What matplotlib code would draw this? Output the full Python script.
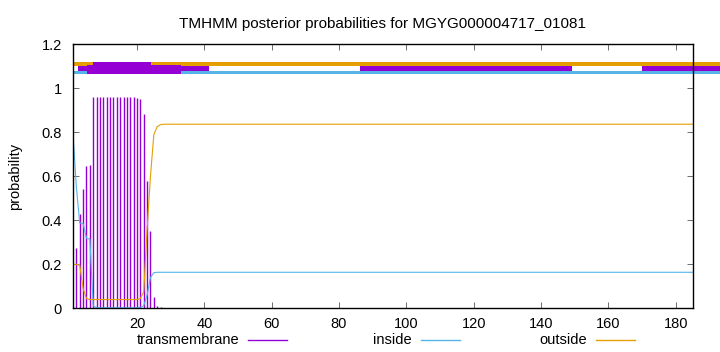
import numpy as np
import matplotlib
matplotlib.use("Agg")
import matplotlib.pyplot as plt
from matplotlib.lines import Line2D

plt.rcParams['font.family'] = ['Liberation Sans', 'DejaVu Sans']

# posterior probabilities, residues 1..28 (flat after that up to seq_len)
seq_len = 185
residues = [1, 2, 3, 4, 5, 6, 7, 8, 9, 10, 11, 12, 13, 14,
            15, 16, 17, 18, 19, 20, 21, 22, 23, 24, 25, 26, 27, 28]
tm = [0.005, 0.276, 0.429, 0.544, 0.648, 0.651, 0.959, 0.959, 0.959, 0.959,
      0.959, 0.959, 0.959, 0.959, 0.959, 0.959, 0.959, 0.959, 0.959, 0.955,
      0.950, 0.885, 0.580, 0.351, 0.050, 0.010, 0.004, 0.0]
inside = [0.795, 0.55, 0.388, 0.385, 0.318, 0.315, 0.012, 0.003, 0.003, 0.003,
          0.003, 0.003, 0.003, 0.003, 0.003, 0.003, 0.003, 0.003, 0.003, 0.003,
          0.004, 0.012, 0.06, 0.14, 0.162, 0.164, 0.164, 0.164]
outside = [0.2, 0.2, 0.195, 0.09, 0.045, 0.04, 0.04, 0.04, 0.04, 0.04,
           0.04, 0.04, 0.04, 0.04, 0.04, 0.04, 0.04, 0.04, 0.04, 0.04,
           0.045, 0.075, 0.36, 0.6, 0.79, 0.826, 0.835, 0.837]

# top band segments (start, width) in residue units
outside_band = [(1, 192)]
inside_band = [(1, 192)]
tm_band = [(2.6, 38.9), (86.3, 62.8), (170.1, 23)]
tm_thick = [(5.1, 28)]
tm_thicker = [(7.0, 17.2)]

legend_labels = ['transmembrane', 'inside', 'outside']

PURPLE = '#9400d3'
BLUE = '#56b4e9'
ORANGE = '#e69f00'
W, H = 720, 352

fig = plt.figure(figsize=(7.2, 3.52), dpi=100)
ax = fig.add_axes([0.1014, 0.124, 0.8606, 0.750])

x_line = residues + [seq_len]
ax.vlines(residues, 0, tm, color=PURPLE, lw=1.0)
ax.plot(x_line, inside + [inside[-1]], color=BLUE, lw=0.8)
ax.plot(x_line, outside + [outside[-1]], color=ORANGE, lw=0.8)

ax.broken_barh(outside_band, (1.103, 0.018), facecolors=ORANGE, clip_on=False)
ax.broken_barh(inside_band, (1.065, 0.014), facecolors=BLUE, clip_on=False)
ax.broken_barh(tm_band, (1.079, 0.024), facecolors=PURPLE, clip_on=False)
ax.broken_barh(tm_thick, (1.064, 0.041), facecolors=PURPLE, clip_on=False)
ax.broken_barh(tm_thicker, (1.064, 0.055), facecolors=PURPLE, clip_on=False)

ax.set_xlim(1, seq_len)
ax.set_ylim(0, 1.2)
ax.set_xticks([20, 40, 60, 80, 100, 120, 140, 160, 180])
ax.set_yticks([0, 0.2, 0.4, 0.6, 0.8, 1.0, 1.2])
ax.set_yticklabels(['0', '0.2', '0.4', '0.6', '0.8', '1', '1.2'])
ax.tick_params(direction='in', top=True, right=True, length=4, width=0.6,
               labelsize=10.5, color='#555555')
ax.tick_params(axis='x', pad=6)
ax.tick_params(axis='y', pad=8)
for s in ax.spines.values():
    s.set_linewidth(1.0)

ax.set_ylabel('probability', fontsize=10.5)
ax.yaxis.set_label_coords(-0.083, 0.5)
ax.set_title('TMHMM posterior probabilities for MGYG000004717_01081',
             fontsize=11, pad=12)

# legend drawn by hand, gnuplot style (text then sample line)
colors = [PURPLE, BLUE, ORANGE]
text_right = [239, 412, 587]
for lab, c, xr in zip(legend_labels, colors, text_right):
    fig.text(xr / W, 1 - 340 / H, lab, ha='right', va='center', fontsize=10.5)
    fig.add_artist(Line2D([(xr + 9) / W, (xr + 48) / W],
                          [1 - 340 / H, 1 - 340 / H], color=c, lw=1.0))

fig.savefig('out.png', dpi=100)
